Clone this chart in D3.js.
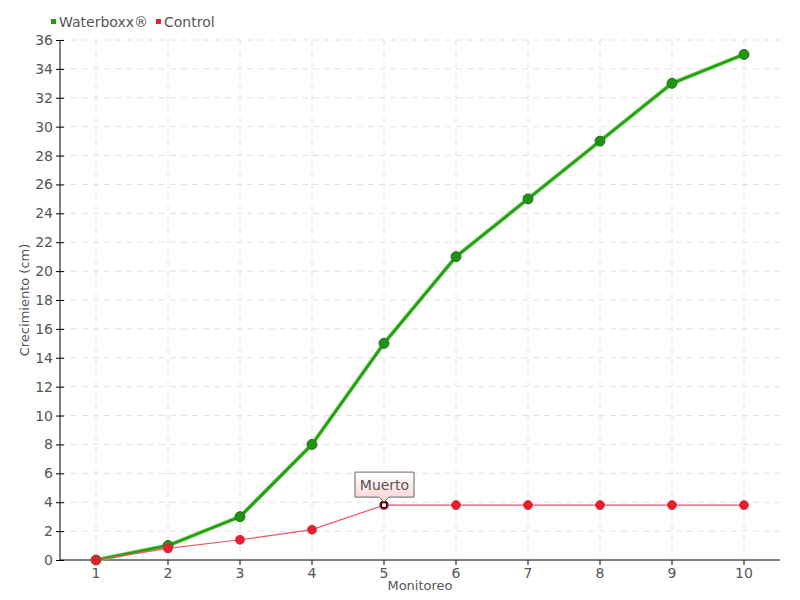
<!DOCTYPE html>
<html>
<head>
<meta charset="utf-8">
<script src="https://cdn.jsdelivr.net/npm/d3@7"></script>
<style>
  body { margin: 0; background: #fff; }
  text { font-family: "DejaVu Sans", sans-serif; fill: #555; }
</style>
</head>
<body>
<div class="chart"></div>
<script>
let monitoreo = [1, 2, 3, 4, 5, 6, 7, 8, 9, 10]
let waterboxx = [0, 1, 3, 8, 15, 21, 25, 29, 33, 35]
let control = [0, 0.8, 1.4, 2.1, 3.8, 3.8, 3.8, 3.8, 3.8, 3.8]
let yTicks = d3.range(0, 37, 2)

let width = 800, height = 600
let margin = { top: 40, right: 20, bottom: 40, left: 60 }

let svg = d3.select(".chart")
  .append("svg")
  .attr("width", width)
  .attr("height", height)

let x = d3.scaleBand()
  .domain(monitoreo)
  .range([margin.left, width - margin.right])
let cx = d => x(d) + x.bandwidth() / 2

let y = d3.scaleLinear()
  .domain([0, 36])
  .range([height - margin.bottom, margin.top])

// grid
svg.append("g")
  .selectAll("line")
  .data(yTicks.filter(t => t > 0))
  .enter()
  .append("line")
  .attr("x1", margin.left)
  .attr("x2", width - margin.right)
  .attr("y1", d => y(d))
  .attr("y2", d => y(d))
  .attr("stroke", "#e2e2e2")
  .attr("stroke-dasharray", "6,5")

svg.append("g")
  .selectAll("line")
  .data(monitoreo)
  .enter()
  .append("line")
  .attr("x1", d => cx(d))
  .attr("x2", d => cx(d))
  .attr("y1", margin.top)
  .attr("y2", height - margin.bottom)
  .attr("stroke", "#e2e2e2")
  .attr("stroke-dasharray", "6,5")

// axes
let yAxis = svg.append("g")
  .attr("transform", `translate(${margin.left},0)`)
  .call(d3.axisLeft(y).tickValues(yTicks).tickSize(4).tickPadding(3))
yAxis.selectAll(".tick line").attr("x1", 4).attr("stroke", "#000")
yAxis.select(".domain").attr("d", `M0,${y(36)}V${y(0)}`).attr("stroke", "#000")

let xAxis = svg.append("g")
  .attr("transform", `translate(0,${height - margin.bottom})`)
  .call(d3.axisBottom(x).tickSize(5).tickPadding(3))
xAxis.selectAll(".tick line").attr("stroke", "#000")
xAxis.select(".domain").attr("d", `M${margin.left},0H${width - margin.right}`).attr("stroke", "#000")

svg.selectAll(".tick text")
  .style("font-size", "14px")
  .attr("font-family", null)
  .attr("fill", "#555")

// axis titles
svg.append("text")
  .attr("x", (margin.left + width - margin.right) / 2)
  .attr("y", 590)
  .attr("text-anchor", "middle")
  .style("font-size", "13px")
  .text("Monitoreo")

svg.append("text")
  .attr("transform", `translate(29,${(margin.top + height - margin.bottom) / 2}) rotate(-90)`)
  .attr("text-anchor", "middle")
  .style("font-size", "13px")
  .text("Crecimiento (cm)")

// lines
let line = d3.line()
  .x((d, i) => cx(monitoreo[i]))
  .y(d => y(d))

svg.append("path")
  .datum(waterboxx)
  .attr("d", line)
  .attr("fill", "none")
  .attr("stroke", "#7ccf6a")
  .attr("stroke-width", 4)
svg.append("path")
  .datum(waterboxx)
  .attr("d", line)
  .attr("fill", "none")
  .attr("stroke", "#22a010")
  .attr("stroke-width", 2.5)

svg.append("path")
  .datum(control)
  .attr("d", line)
  .attr("fill", "none")
  .attr("stroke", "#f55566")
  .attr("stroke-width", 1.2)

svg.append("g")
  .selectAll("circle")
  .data(waterboxx)
  .enter()
  .append("circle")
  .attr("cx", (d, i) => cx(monitoreo[i]))
  .attr("cy", d => y(d))
  .attr("r", 5)
  .attr("fill", "#1f9314")
  .attr("stroke", "#2d6e24")
  .attr("stroke-width", 1)

let controlPts = control.map((v, i) => ({ m: monitoreo[i], v: v }))

svg.append("g")
  .selectAll("circle")
  .data(controlPts)
  .enter()
  .append("circle")
  .attr("cx", d => cx(d.m))
  .attr("cy", d => y(d.v))
  .attr("r", 4.5)
  .attr("fill", "#ee1c2e")
  .attr("stroke", "#c9303c")
  .attr("stroke-width", 0.8)

// annotation at Monitoreo 5
let mx = cx(5), my = y(control[4])
svg.append("rect")
  .attr("x", mx - 2.5).attr("y", my - 2.5)
  .attr("width", 5).attr("height", 5)
  .attr("fill", "#fff").attr("stroke", "#000").attr("stroke-width", 1.3)

let defs = svg.append("defs")
let grad = defs.append("linearGradient")
  .attr("id", "tip").attr("x1", 0).attr("y1", 0).attr("x2", 0).attr("y2", 1)
grad.append("stop").attr("offset", "0%").attr("stop-color", "#ffffff")
grad.append("stop").attr("offset", "100%").attr("stop-color", "#fbd3d3")

let bx = mx - 29, by = my - 33, bw = 59, bh = 25
svg.append("path")
  .attr("d", `M${bx},${by}H${bx + bw}V${by + bh}H${mx + 5}L${mx},${my - 3}L${mx - 5},${by + bh}H${bx}Z`)
  .attr("fill", "url(#tip)")
  .attr("stroke", "#666")
  .attr("stroke-width", 1)
svg.append("text")
  .attr("x", bx + bw / 2)
  .attr("y", by + 18)
  .attr("text-anchor", "middle")
  .style("font-size", "14px")
  .text("Muerto")

// legend, items laid out one after another
let legend = [["Waterboxx®", "#1f9f10"], ["Control", "#ee1c2e"]]
let lx = 51
legend.forEach(d => {
  svg.append("rect")
    .attr("x", lx).attr("y", 19)
    .attr("width", 5).attr("height", 5)
    .attr("fill", d[1])
  let t = svg.append("text")
    .attr("x", lx + 8)
    .attr("y", 27)
    .style("font-size", "14px")
    .text(d[0])
  lx += 8 + t.node().getComputedTextLength() + 8
})
</script>
</body>
</html>
